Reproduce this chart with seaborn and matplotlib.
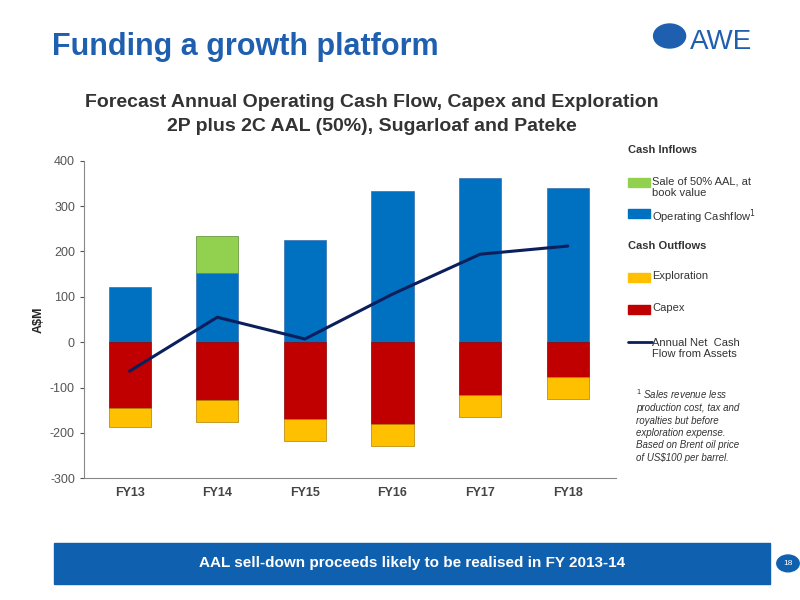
import numpy as np
import pandas as pd
import seaborn as sns
import matplotlib.pyplot as plt
from matplotlib.patches import Rectangle, Circle

years = ["FY13", "FY14", "FY15", "FY16", "FY17", "FY18"]
operating_cashflow = [122, 153, 225, 334, 362, 340]
sale_aal = [0, 81, 0, 0, 0, 0]
capex = [-146, -128, -170, -181, -117, -77]
exploration = [-42, -49, -49, -49, -49, -49]
net_cash_flow = [-64, 55, 7, 106, 194, 212]

BLUE = "#0070c0"
GREEN = "#92d050"
RED = "#c00000"
YELLOW = "#ffc000"
NAVY = "#0a1f5c"

sns.set_style("white")
plt.rcParams["font.family"] = ["Liberation Sans", "DejaVu Sans"]
plt.rcParams["axes.unicode_minus"] = False

fig = plt.figure(figsize=(8, 6), dpi=100)
ax = fig.add_axes([0.105, 0.203, 0.665, 0.529])

x = np.arange(len(years))
w = 0.48
ax.bar(x, operating_cashflow, w, color=BLUE, edgecolor="#3a6fb0", linewidth=0.5)
ax.bar(x, sale_aal, w, bottom=operating_cashflow, color=GREEN,
       edgecolor=["#5a8a30" if v else "none" for v in sale_aal], linewidth=0.5)
ax.bar(x, capex, w, color=RED, edgecolor="#8a0000", linewidth=0.5)
ax.bar(x, exploration, w, bottom=capex, color=YELLOW, edgecolor="#b08000", linewidth=0.5)
df = pd.DataFrame({"x": x, "net": net_cash_flow})
sns.lineplot(data=df, x="x", y="net", ax=ax, color=NAVY, linewidth=2.2)

ax.set_xlim(-0.52, 5.55)
ax.set_ylim(-300, 400)
ax.set_yticks(range(-300, 401, 100))
ax.set_xticks(x)
ax.set_xticklabels(years, fontweight="bold", fontsize=9)
ax.tick_params(axis="y", labelsize=9, length=3, left=True, colors="#555555")
ax.tick_params(axis="x", length=0, pad=6, labelcolor="#444444")
ax.set_xlabel("")
ax.set_ylabel("A$M", fontsize=9, fontweight="bold")
for s in ["top", "right"]:
    ax.spines[s].set_visible(False)
for s in ["left", "bottom"]:
    ax.spines[s].set_color("#888888")

# titles
fig.text(0.065, 0.908, "Funding a growth platform", fontsize=22, fontweight="bold", color="#1f5fb0")
fig.text(0.465, 0.822, "Forecast Annual Operating Cash Flow, Capex and Exploration",
         ha="center", fontsize=14, fontweight="bold", color="#333333")
fig.text(0.465, 0.782, "2P plus 2C AAL (50%), Sugarloaf and Pateke",
         ha="center", fontsize=14, fontweight="bold", color="#333333")
fig.text(0.862, 0.918, "AWE", fontsize=20, color="#1f5fb0")
fig.patches.append(Circle((0.837, 0.94), 0.02, transform=fig.transFigure, color="#1f5fb0"))

# legend
lx = 0.785
fig.text(lx, 0.745, "Cash Inflows", fontsize=8, fontweight="bold", color="#333333")
items = [(GREEN, 0.688, "Sale of 50% AAL, at\nbook value"),
         (BLUE, 0.637, "Operating Cashflow$^1$")]
items2 = [(YELLOW, 0.53, "Exploration"), (RED, 0.477, "Capex")]
fig.text(lx, 0.585, "Cash Outflows", fontsize=8, fontweight="bold", color="#333333")
for col, yy, lab in items + items2:
    fig.patches.append(Rectangle((lx, yy), 0.028, 0.015, transform=fig.transFigure, color=col))
    fig.text(lx + 0.03, yy + 0.018, lab, fontsize=8, color="#333333", va="top")
fig.lines.append(plt.Line2D([lx, lx + 0.03], [0.43, 0.43], transform=fig.transFigure, color=NAVY, lw=2))
fig.text(lx + 0.03, 0.437, "Annual Net  Cash\nFlow from Assets", fontsize=8, color="#333333", va="top")
fig.text(0.795, 0.355, "$^1$ Sales revenue less\nproduction cost, tax and\nroyalties but before\nexploration expense.\nBased on Brent oil price\nof US$100 per barrel.",
         fontsize=7, style="italic", color="#333333", va="top", linespacing=1.3)

# bottom banner
fig.patches.append(Rectangle((0.067, 0.027), 0.895, 0.068, transform=fig.transFigure, color="#1060b0"))
fig.text(0.515, 0.061, "AAL sell-down proceeds likely to be realised in FY 2013-14",
         ha="center", va="center", fontsize=11, fontweight="bold", color="white")
fig.patches.append(Circle((0.985, 0.061), 0.014, transform=fig.transFigure, color="#1060b0"))
fig.text(0.985, 0.061, "18", ha="center", va="center", fontsize=6, color="white")

fig.savefig("out.png", dpi=100)
